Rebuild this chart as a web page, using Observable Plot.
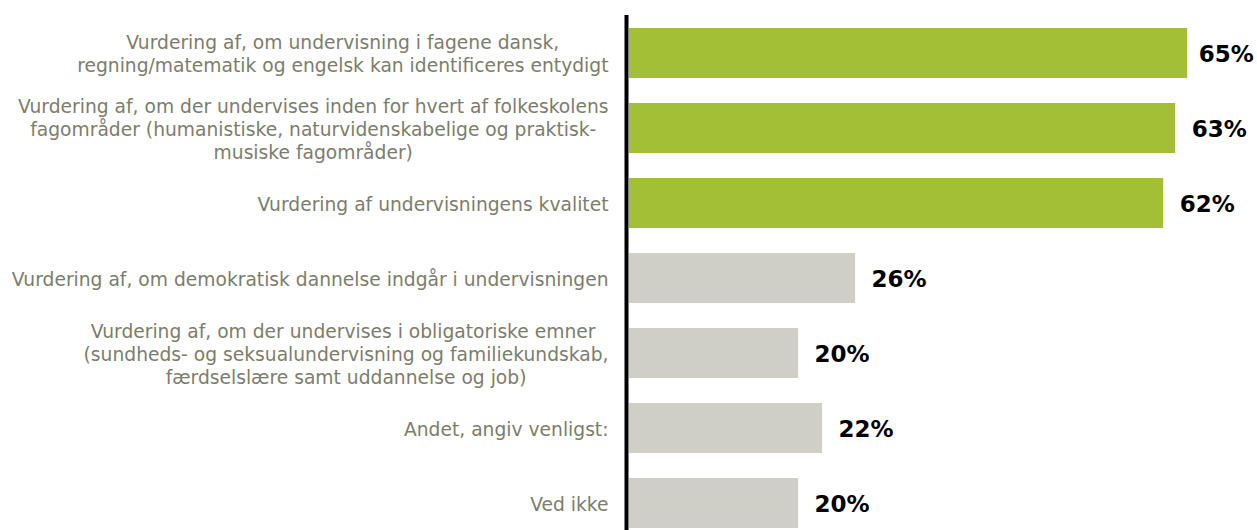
<!DOCTYPE html>
<html>
<head>
<meta charset="utf-8">
<script src="https://cdn.jsdelivr.net/npm/d3@7"></script>
<script src="https://cdn.jsdelivr.net/npm/@observablehq/plot@0.6"></script>
<style>
  body { margin: 0; background: #fff; }
  #chart svg { display: block; }
</style>
</head>
<body>
<div id="chart"></div>
<script>
const categories = [
  "Vurdering af, om undervisning i fagene dansk,\nregning/matematik og engelsk kan identificeres entydigt",
  "Vurdering af, om der undervises inden for hvert af folkeskolens\nfagområder (humanistiske, naturvidenskabelige og praktisk-\nmusiske fagområder)",
  "Vurdering af undervisningens kvalitet",
  "Vurdering af, om demokratisk dannelse indgår i undervisningen",
  "Vurdering af, om der undervises i obligatoriske emner \n(sundheds- og seksualundervisning og familiekundskab,\nfærdselslære samt uddannelse og job)",
  "Andet, angiv venligst:",
  "Ved ikke"
];
// shares in percent (unrounded estimates)
const values = [64.73, 63.34, 61.95, 26.22, 19.61, 22.39, 19.61];
const highlighted = [true, true, true, false, false, false, false];

const data = categories.map((c, i) => ({label: c, value: values[i], hi: highlighted[i]}));
const maxValue = d3.max(values);

const chart = Plot.plot({
  width: 1257,
  height: 530,
  marginTop: 28,
  marginBottom: 2,
  marginLeft: 629,
  marginRight: 2,
  style: {fontFamily: "'DejaVu Sans', Verdana, sans-serif", background: "#fff"},
  x: {domain: [0, 72.6], axis: null},
  y: {domain: categories, paddingInner: 1/3, paddingOuter: 0, axis: null},
  marks: [
    Plot.barX(data, {
      x: "value", y: "label",
      fill: d => d.hi ? "#a2bf35" : "#cfcfc6"
    }),
    Plot.text(data, {
      filter: d => d.value < maxValue,
      x: "value", y: "label",
      text: d => Math.round(d.value) + "%",
      textAnchor: "start", dx: 16, dy: 1,
      fontSize: 23, fontWeight: "bold", fill: "#000"
    }),
    Plot.text(data, {
      filter: d => d.value === maxValue,
      x: "value", y: "label",
      text: d => Math.round(d.value) + "%",
      textAnchor: "start", dx: 11, dy: 1,
      fontSize: 23, fontWeight: "bold", fill: "#000"
    }),
    Plot.text(data, {
      x: 0, y: "label",
      text: "label",
      textAnchor: "end", dx: -21,
      lineHeight: 1.23,
      fontSize: 18.7, fill: "#7d7d6c",
      ariaDescription: "category-labels"
    }),
    Plot.ruleX([0], {stroke: "#000", strokeWidth: 4, dx: -3, insetTop: -13, insetBottom: -2})
  ]
});
document.getElementById("chart").appendChild(chart);

// Multi-line category labels: centre the lines within a right-aligned block
d3.select(chart).selectAll('g[aria-description="category-labels"] text').each(function() {
  const tspans = Array.from(this.querySelectorAll("tspan"));
  if (tspans.length < 2) return;
  const widths = tspans.map(t => t.getComputedTextLength());
  const maxW = d3.max(widths);
  tspans.forEach(t => {
    const x0 = parseFloat(t.getAttribute("x") || "0");
    t.setAttribute("x", x0 - maxW / 2);
    t.setAttribute("text-anchor", "middle");
  });
});
</script>
</body>
</html>
